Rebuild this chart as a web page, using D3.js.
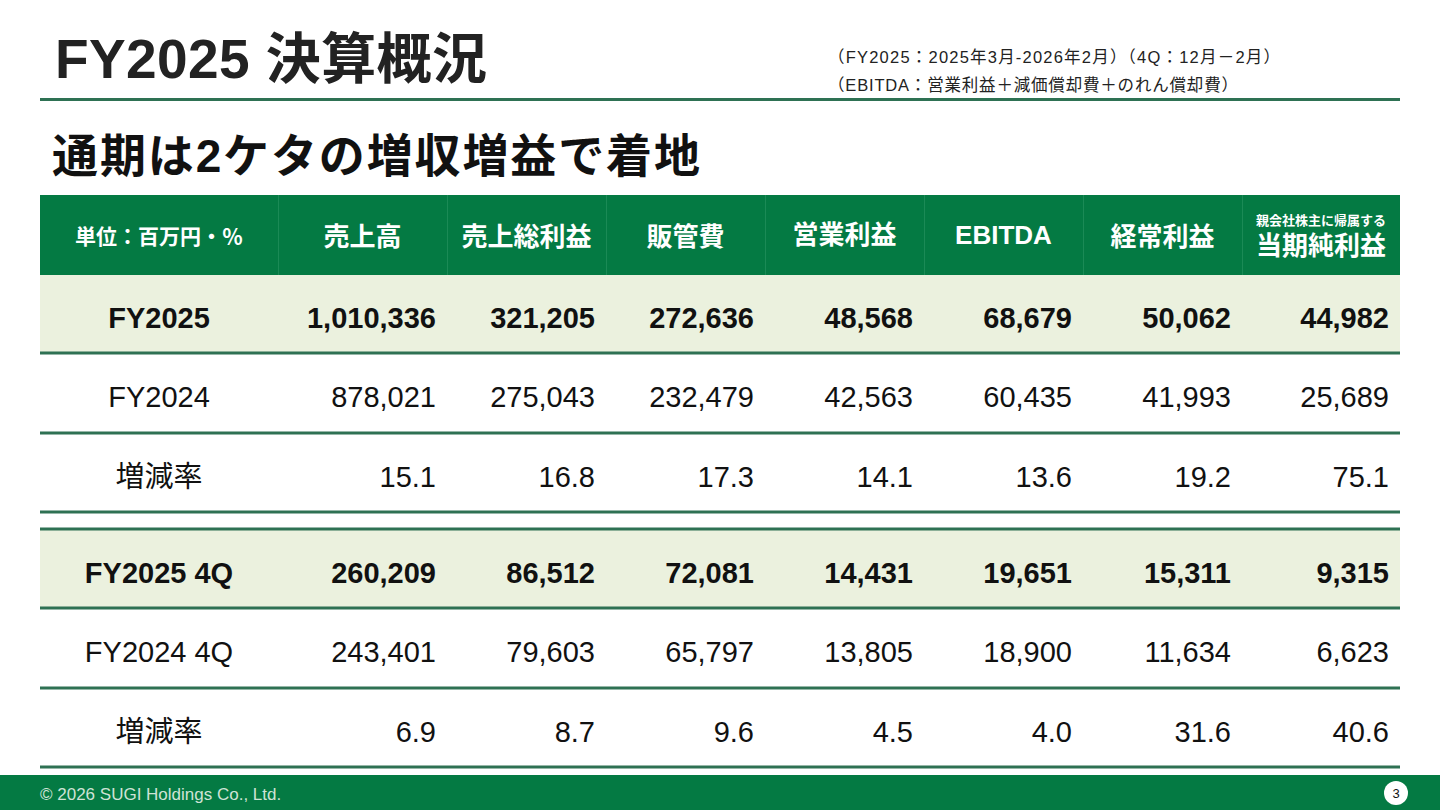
<!DOCTYPE html>
<html><head><meta charset="utf-8">
<script src="https://cdn.jsdelivr.net/npm/d3@7"></script>
<style>body{margin:0;background:#fff}svg{display:block;font-family:Arial,"Liberation Sans","Noto Sans CJK JP",sans-serif}</style>
</head><body><svg width="1440" height="810"></svg>
<script>
var columns = ["売上高", "売上総利益", "販管費", "営業利益", "EBITDA", "経常利益", "当期純利益"];
var rowLabels = ["FY2025", "FY2024", "増減率", "FY2025 4Q", "FY2024 4Q", "増減率"];
var fy2025 = ["1,010,336", "321,205", "272,636", "48,568", "68,679", "50,062", "44,982"];
var fy2024 = ["878,021", "275,043", "232,479", "42,563", "60,435", "41,993", "25,689"];
var rateFY = ["15.1", "16.8", "17.3", "14.1", "13.6", "19.2", "75.1"];
var fy2025q4 = ["260,209", "86,512", "72,081", "14,431", "19,651", "15,311", "9,315"];
var fy2024q4 = ["243,401", "79,603", "65,797", "13,805", "18,900", "11,634", "6,623"];
var rateQ4 = ["6.9", "8.7", "9.6", "4.5", "4.0", "31.6", "40.6"];

var rows = [fy2025, fy2024, rateFY, fy2025q4, fy2024q4, rateQ4];
var bold = [true, false, false, true, false, false];
var rowTop = [275, 353, 433, 529, 608, 688];
var rowH = [78, 80, 79, 79, 80, 79];
var colX = [40, 278, 447, 606, 765, 924, 1083, 1242, 1400];
var G = "#047a43", LG = "#ebf1de", LINE = "#2e7153";

var svg = d3.select("svg");

// タイトル
svg.append("text").attr("x", 55).attr("y", 78).attr("font-size", 55).attr("font-weight", "bold")
	.attr("fill", "#222").attr("textLength", 432).text("FY2025 決算概況");
svg.append("text").attr("x", 828).attr("y", 63).attr("font-size", 16.5).attr("fill", "#222")
	.attr("textLength", 452).text("（FY2025：2025年3月-2026年2月）（4Q：12月－2月）");
svg.append("text").attr("x", 828).attr("y", 91).attr("font-size", 16.5).attr("fill", "#222")
	.attr("textLength", 410).text("（EBITDA：営業利益＋減価償却費＋のれん償却費）");
svg.append("rect").attr("x", 40).attr("y", 98).attr("width", 1360).attr("height", 3).attr("fill", LINE);
svg.append("text").attr("x", 52).attr("y", 172).attr("font-size", 46).attr("font-weight", "bold")
	.attr("fill", "#111").attr("textLength", 648).text("通期は2ケタの増収増益で着地");

// ヘッダー
svg.append("rect").attr("x", 40).attr("y", 195).attr("width", 1360).attr("height", 80).attr("fill", G);
svg.selectAll(".vsep").data(colX.slice(1, -1)).enter().append("rect")
	.attr("x", d => d).attr("y", 195).attr("width", 1).attr("height", 80).attr("fill", "#1b8a56");
svg.append("text").attr("x", 159).attr("y", 244).attr("text-anchor", "middle").attr("font-size", 21)
	.attr("font-weight", "bold").attr("fill", "#fff").text("単位：百万円・％");
columns.forEach((c, i) => {
	var cx = (colX[i + 1] + colX[i + 2]) / 2;
	if (i === 6) {
		svg.append("text").attr("x", cx).attr("y", 225).attr("text-anchor", "middle").attr("font-size", 13)
			.attr("font-weight", "bold").attr("fill", "#fff").text("親会社株主に帰属する");
		svg.append("text").attr("x", cx).attr("y", 255).attr("text-anchor", "middle").attr("font-size", 26)
			.attr("font-weight", "bold").attr("fill", "#fff").text(c);
	} else {
		svg.append("text").attr("x", cx).attr("y", i === 3 || i === 4 ? 244 : 246).attr("text-anchor", "middle")
			.attr("font-size", 26).attr("font-weight", "bold").attr("fill", "#fff").text(c);
	}
});

// 行
rows.forEach((vals, r) => {
	var y0 = rowTop[r], h = rowH[r], ty = y0 + h / 2 + 14;
	if (bold[r]) svg.append("rect").attr("x", 40).attr("y", y0).attr("width", 1360).attr("height", h).attr("fill", LG);
	svg.append("rect").attr("x", 40).attr("y", y0 + h - 1.5).attr("width", 1360).attr("height", 3).attr("fill", LINE);
	svg.append("text").attr("x", 159).attr("y", ty).attr("text-anchor", "middle").attr("font-size", 29)
		.attr("font-weight", bold[r] ? "bold" : "normal").attr("fill", "#111").text(rowLabels[r]);
	vals.forEach((v, i) => {
		svg.append("text").attr("x", colX[i + 2] - 11).attr("y", ty).attr("text-anchor", "end").attr("font-size", 29)
			.attr("font-weight", bold[r] ? "bold" : "normal").attr("fill", "#111").text(v);
	});
});
svg.append("rect").attr("x", 40).attr("y", 527.5).attr("width", 1360).attr("height", 3).attr("fill", LINE);

// フッター
svg.append("rect").attr("x", 0).attr("y", 775).attr("width", 1440).attr("height", 35).attr("fill", G);
svg.append("text").attr("x", 40).attr("y", 800).attr("font-size", 17).attr("fill", "#cfe3d6")
	.text("© 2026 SUGI Holdings Co., Ltd.");
svg.append("circle").attr("cx", 1396).attr("cy", 793).attr("r", 12).attr("fill", "#fff");
svg.append("text").attr("x", 1396).attr("y", 798).attr("text-anchor", "middle").attr("font-size", 13).attr("fill", "#111").text("3");
</script></body></html>
